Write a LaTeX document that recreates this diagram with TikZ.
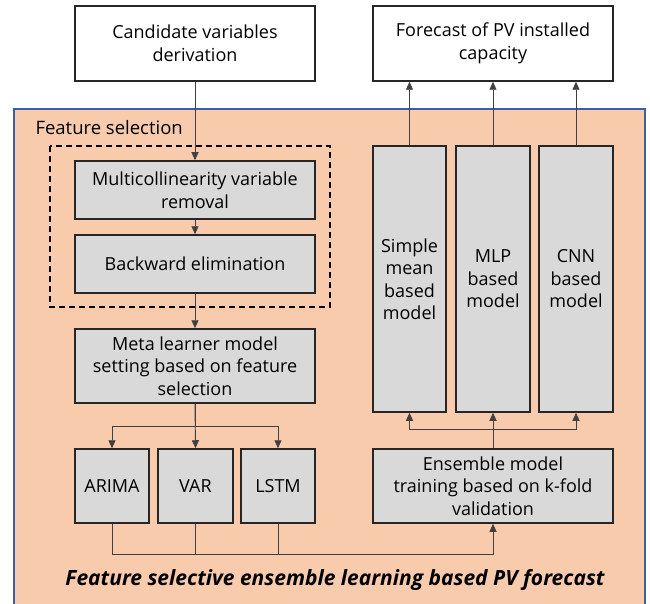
\documentclass[tikz,border=0pt]{standalone}
\usepackage{fontspec}
\setmainfont{Open Sans}
\usetikzlibrary{arrows.meta}
\definecolor{panelfill}{HTML}{F8CBAD}
\definecolor{panelline}{HTML}{3A5FA6}
\definecolor{boxgray}{HTML}{D9D9D9}

\begin{document}
\begin{tikzpicture}[x=1pt, y=-1pt,
        box/.style={draw=black!85, line width=1.5pt, fill=boxgray, align=center,
            inner sep=0pt, font=\fontsize{18}{22.5}\selectfont},
        topbox/.style={box, fill=white},
        link/.style={draw=black!75, line width=0.9pt},
        arr/.style={link, -{Triangle[length=8pt, width=7pt]}}]
    \useasboundingbox (0,0) rectangle (650,604);

    % panel behind the method
    \fill[panelfill] (14,109) rectangle (645,604);
    \draw[panelline, line width=1.6pt] (14,604) -- (14,109) -- (645,109) -- (645,604);
    \node[anchor=west, font=\fontsize{18.5}{22}\selectfont] (fslabel) at (32,128) {Feature selection};
    \draw[dashed, line width=1.4pt, dash pattern=on 6pt off 4pt] (50,146) rectangle (330,307);

    % top boxes
    \node[topbox, minimum width=240pt, minimum height=75pt] (cand) at (195,43.5) {Candidate variables\\derivation};
    \node[topbox, minimum width=240pt, minimum height=75pt] (fcst) at (493,43.5) {Forecast of PV installed\\capacity};

    % feature selection column
    \node[box, minimum width=240pt, minimum height=58pt] (multi) at (195,190) {Multicollinearity variable\\removal};
    \node[box, minimum width=240pt, minimum height=58pt] (back) at (195,264) {Backward elimination};
    \node[box, minimum width=240pt, minimum height=74pt] (meta) at (195,366) {Meta learner model\\setting based on feature\\selection};

    % base learners
    \node[box, minimum width=74pt, minimum height=74pt] (arima) at (112,486) {ARIMA};
    \node[box, minimum width=75pt, minimum height=74pt] (var) at (195.5,486) {VAR};
    \node[box, minimum width=74pt, minimum height=74pt] (lstm) at (278,486) {LSTM};

    % ensemble side
    \node[box, minimum width=240pt, minimum height=74pt] (ens) at (493,486) {Ensemble model\\training based on k-fold\\validation};
    \node[box, minimum width=73pt, minimum height=266pt] (simple) at (409.5,279) {Simple\\mean\\based\\model};
    \node[box, minimum width=74pt, minimum height=266pt] (mlp) at (493,279) {MLP\\based\\model};
    \node[box, minimum width=74pt, minimum height=266pt] (cnn) at (576,279) {CNN\\based\\model};

    % connectors
    \draw[arr] (cand.south) -- (multi.north);
    \draw[arr] (multi.south) -- (back.north);
    \draw[arr] (back.south) -- (meta.north);
    \draw[arr] (meta.south) -- (var.north);
    \draw[arr] (meta.south) -- ++(0,23) -| (arima.north);
    \draw[arr] (meta.south) -- ++(0,23) -| (lstm.north);
    \draw[arr] (arima.south) -- ++(0,31) -| (ens.south);
    \draw[link] (var.south) -- ++(0,31);
    \draw[link] (lstm.south) -- ++(0,31);
    \draw[arr] (ens.north) -- (mlp.south);
    \draw[arr] (ens.north) -- ++(0,-19) -| (simple.south);
    \draw[arr] (ens.north) -- ++(0,-19) -| (cnn.south);
    \draw[arr] (simple.north) -- (simple.north |- fcst.south);
    \draw[arr] (mlp.north) -- (fcst.south);
    \draw[arr] (cnn.north) -- (cnn.north |- fcst.south);

    \node[font=\fontsize{21}{24}\selectfont\bfseries\itshape] (title) at (335,580) {Feature selective ensemble learning based PV forecast};
\end{tikzpicture}
\end{document}
